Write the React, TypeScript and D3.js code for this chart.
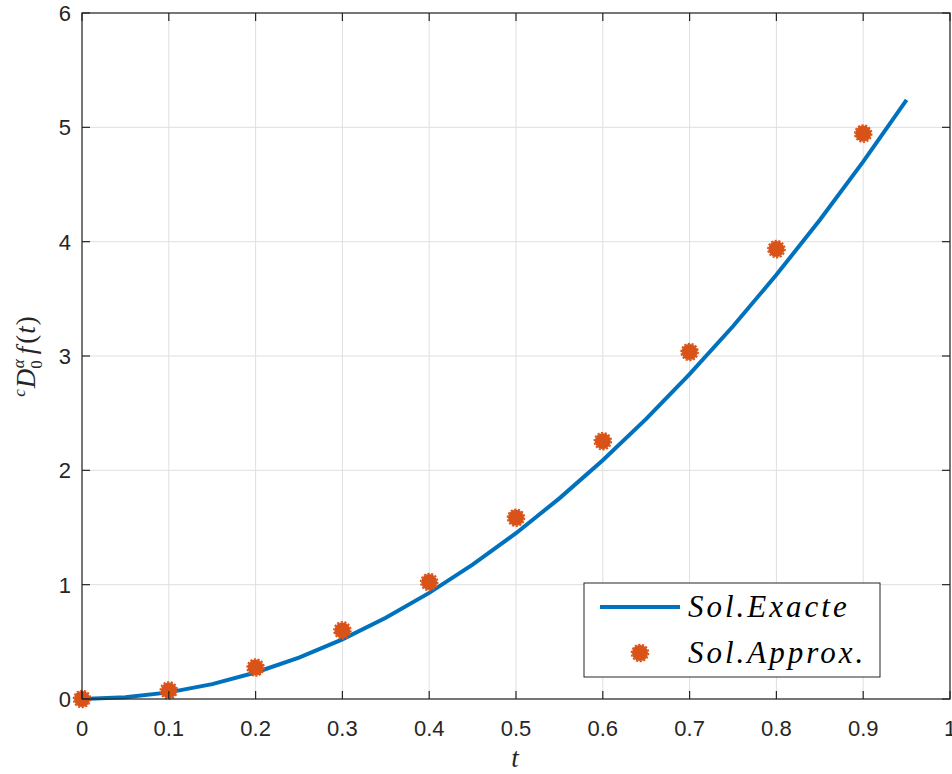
import React from "react";
import * as d3 from "d3";

const exactT = [0, 0.05, 0.1, 0.15, 0.2, 0.25, 0.3, 0.35, 0.4, 0.45, 0.5, 0.55, 0.6, 0.65, 0.7, 0.75, 0.8, 0.85, 0.9, 0.95];
const exactY = [0, 0.015, 0.058, 0.13, 0.232, 0.362, 0.522, 0.71, 0.928, 1.175, 1.45, 1.755, 2.088, 2.45, 2.842, 3.26, 3.71, 4.19, 4.7, 5.24];
const approxT = [0, 0.1, 0.2, 0.3, 0.4, 0.5, 0.6, 0.7, 0.8, 0.9];
const approxY = [0, 0.075, 0.275, 0.6, 1.023, 1.585, 2.255, 3.035, 3.935, 4.945];
const xTicks = [0, 0.1, 0.2, 0.3, 0.4, 0.5, 0.6, 0.7, 0.8, 0.9, 1];
const yTicks = [0, 1, 2, 3, 4, 5, 6];
const legendLabels = ["Sol.Exacte", "Sol.Approx."];

const W = 952, H = 774;
const M = { left: 82, right: 950, top: 13, bottom: 699 };
const blue = "#0072BD";
const orange = "#D95319";
const axisColor = "#262626";
const tickFont = "'Liberation Sans', Arial, Helvetica, sans-serif";
const mathFont = "'Liberation Serif', 'DejaVu Serif', 'Times New Roman', serif";

export default function App() {
  const x = d3.scaleLinear().domain([0, 1]).range([M.left, M.right]);
  const y = d3.scaleLinear().domain([0, 6]).range([M.bottom, M.top]);
  const line = d3.line<number>().x((_, i) => x(exactT[i])).y((d) => y(d));
  const tl = 8;

  const marker = (cx: number, cy: number, key: string | number) => (
    <g key={key}>
      <circle cx={cx} cy={cy} r={8} fill={orange} />
      <circle cx={cx} cy={cy} r={8.5} fill="none" stroke={orange} strokeWidth={1.6} strokeDasharray="2.2,1.6" />
    </g>
  );

  return (
    <svg width={W} height={H} style={{ position: "absolute", left: 0, top: 0, background: "#fff" }}>
      <rect x={0} y={0} width={W} height={H} fill="#fff" />
      {xTicks.map((t) => (
        <line key={"gx" + t} x1={x(t)} x2={x(t)} y1={M.top} y2={M.bottom} stroke="#dfdfdf" strokeWidth={1} />
      ))}
      {yTicks.map((t) => (
        <line key={"gy" + t} x1={M.left} x2={M.right} y1={y(t)} y2={y(t)} stroke="#dfdfdf" strokeWidth={1} />
      ))}
      <path d={line(exactY) || ""} fill="none" stroke={blue} strokeWidth={4} />
      {approxY.map((v, i) => marker(x(approxT[i]), y(v), i))}
      <rect x={M.left} y={M.top} width={M.right - M.left} height={M.bottom - M.top} fill="none" stroke={axisColor} strokeWidth={1.2} />
      {xTicks.map((t) => (
        <g key={"tx" + t}>
          <line x1={x(t)} x2={x(t)} y1={M.bottom} y2={M.bottom - tl} stroke={axisColor} strokeWidth={1.2} />
          <line x1={x(t)} x2={x(t)} y1={M.top} y2={M.top + tl} stroke={axisColor} strokeWidth={1.2} />
          <text x={x(t)} y={M.bottom + 37} textAnchor="middle" fontFamily={tickFont} fontSize={22} fill={axisColor}>
            {String(t)}
          </text>
        </g>
      ))}
      {yTicks.map((t) => (
        <g key={"ty" + t}>
          <line x1={M.left} x2={M.left + tl} y1={y(t)} y2={y(t)} stroke={axisColor} strokeWidth={1.2} />
          <line x1={M.right} x2={M.right - tl} y1={y(t)} y2={y(t)} stroke={axisColor} strokeWidth={1.2} />
          <text x={M.left - 11} y={y(t) + 8} textAnchor="end" fontFamily={tickFont} fontSize={22} fill={axisColor}>
            {String(t)}
          </text>
        </g>
      ))}
      <text x={(M.left + M.right) / 2 - 1} y={767} textAnchor="middle" fontFamily={mathFont} fontStyle="italic" fontSize={27} fill={axisColor}>
        t
      </text>
      <text transform={`translate(35, ${(M.top + M.bottom) / 2}) rotate(-90)`} textAnchor="middle" fontFamily={mathFont} fontSize={27} fill={axisColor} letterSpacing={1}>
        <tspan fontStyle="italic" fontSize={17} dy={-10}>c</tspan>
        <tspan fontStyle="italic" dy={10}>D</tspan>
        <tspan fontSize={17} dy={7} dx={-1}>0</tspan>
        <tspan fontStyle="italic" fontSize={17} dy={-18} dx={-9}>α</tspan>
        <tspan fontStyle="italic" dy={11} dx={4}>f</tspan>
        <tspan dx={2}>(</tspan>
        <tspan fontStyle="italic">t</tspan>
        <tspan>)</tspan>
      </text>
      <g>
        <rect x={584} y={583} width={296} height={94} fill="#fff" stroke={axisColor} strokeWidth={1} />
        <line x1={600} x2={680} y1={607} y2={607} stroke={blue} strokeWidth={4} />
        <text x={688} y={617} fontFamily={mathFont} fontStyle="italic" fontSize={31} fill="#000" letterSpacing={3}>
          {legendLabels[0]}
        </text>
        {marker(640, 653, "leg")}
        <text x={688} y={663} fontFamily={mathFont} fontStyle="italic" fontSize={31} fill="#000" letterSpacing={3}>
          {legendLabels[1]}
        </text>
      </g>
    </svg>
  );
}
